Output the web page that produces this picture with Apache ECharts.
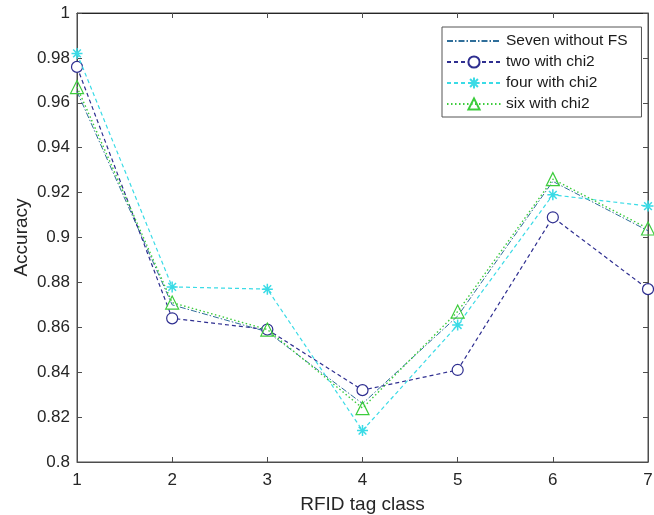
<!DOCTYPE html>
<html>
<head>
<meta charset="utf-8">
<script src="https://cdn.jsdelivr.net/npm/echarts@6/dist/echarts.min.js"></script>
<style>
  html, body { margin: 0; padding: 0; background: #fff; }
  #chart { width: 654px; height: 515px; }
</style>
</head>
<body>
<div id="chart"></div>
<script>
// RFID tag classes on the x axis
const tagClasses = [1, 2, 3, 4, 5, 6, 7];

// Accuracy per class for each feature-selection setting
const sevenWithoutFS = [0.965, 0.870, 0.858, 0.826, 0.865, 0.925, 0.903];
const twoWithChi2    = [0.976, 0.864, 0.859, 0.832, 0.841, 0.909, 0.877];
const fourWithChi2   = [0.982, 0.878, 0.877, 0.814, 0.861, 0.919, 0.914];
const sixWithChi2    = [0.967, 0.871, 0.859, 0.824, 0.867, 0.926, 0.904];

const seriesNames = ['Seven without FS', 'two with chi2', 'four with chi2', 'six with chi2'];

const FONT = 'Liberation Sans, Arial, sans-serif';
const AXIS_COLOR = '#4d4d4d';
const ASTERISK = 'path://M5,0L5,10M0,5L10,5M1.5,1.5L8.5,8.5M1.5,8.5L8.5,1.5';

function pairs(values) {
  return tagClasses.map((c, i) => [c, values[i]]);
}

const chart = echarts.init(document.getElementById('chart'), null, { renderer: 'canvas' });

const option = {
  backgroundColor: '#ffffff',
  animation: false,
  grid: { left: 77, right: 6, top: 13, bottom: 53, containLabel: false,
          outerBoundsMode: 'none',
          show: true, borderColor: AXIS_COLOR, borderWidth: 1 },
  legend: {
    orient: 'vertical',
    left: 442, top: 27,
    padding: [6, 14, 5, 4],
    itemWidth: 54, itemHeight: 14, itemGap: 5,
    backgroundColor: '#ffffff',
    borderColor: '#555555', borderWidth: 1,
    textStyle: { fontFamily: FONT, fontSize: 15.5, color: '#1a1a1a' },
    data: [
      { name: seriesNames[0], itemStyle: { opacity: 0 } },
      seriesNames[1], seriesNames[2], seriesNames[3]
    ]
  },
  xAxis: [{
    type: 'value', min: 1, max: 7, interval: 1,
    name: 'RFID tag class', nameLocation: 'middle', nameGap: 33,
    nameMoveOverlap: false,
    nameTextStyle: { fontFamily: FONT, fontSize: 19, color: '#262626' },
    axisLine: { lineStyle: { color: AXIS_COLOR } },
    axisTick: { inside: true, length: 5, lineStyle: { color: AXIS_COLOR } },
    axisLabel: { fontFamily: FONT, fontSize: 17, color: '#262626', margin: 10 },
    splitLine: { show: false }
  }, {
    type: 'value', min: 1, max: 7, interval: 1, position: 'top',
    axisLine: { lineStyle: { color: '#262626' } },
    axisTick: { inside: true, length: 5, lineStyle: { color: AXIS_COLOR } },
    axisLabel: { show: false }, splitLine: { show: false }
  }],
  yAxis: [{
    type: 'value', min: 0.8, max: 1, interval: 0.02,
    name: 'Accuracy', nameLocation: 'middle', nameGap: 46,
    nameMoveOverlap: false,
    nameTextStyle: { fontFamily: FONT, fontSize: 19, color: '#262626' },
    axisLine: { show: true, lineStyle: { color: AXIS_COLOR } },
    axisTick: { show: true, inside: true, length: 5, lineStyle: { color: AXIS_COLOR } },
    axisLabel: { fontFamily: FONT, fontSize: 17, color: '#262626', margin: 7,
                 formatter: v => String(parseFloat(v.toFixed(2))) },
    splitLine: { show: false }
  }, {
    type: 'value', min: 0.8, max: 1, interval: 0.02, position: 'right',
    axisLine: { show: true, lineStyle: { color: AXIS_COLOR } },
    axisTick: { show: true, inside: true, length: 5, lineStyle: { color: AXIS_COLOR } },
    axisLabel: { show: false }, splitLine: { show: false }
  }],
  series: [
    {
      name: seriesNames[0], type: 'line', data: pairs(sevenWithoutFS),
      symbol: 'none', z: 2,
      itemStyle: { color: '#2f6e9a' },
      lineStyle: { color: '#2f6e9a', width: 1, type: [6, 2, 1.5, 2] }
    },
    {
      name: seriesNames[1], type: 'line', data: pairs(twoWithChi2),
      symbol: 'circle', symbolSize: 11, z: 3,
      itemStyle: { color: '#ffffff', borderColor: '#2e2e90', borderWidth: 1.2 },
      lineStyle: { color: '#2e2e90', width: 1.2, type: [4, 3] }
    },
    {
      name: seriesNames[2], type: 'line', data: pairs(fourWithChi2),
      symbol: ASTERISK, symbolSize: 11, z: 4,
      itemStyle: { color: 'rgba(0,0,0,0)', borderColor: '#3adbe6', borderWidth: 1.5 },
      lineStyle: { color: '#3adbe6', width: 1.2, type: [4, 3] }
    },
    {
      name: seriesNames[3], type: 'line', data: pairs(sixWithChi2),
      symbol: 'triangle', symbolSize: 13, z: 5,
      itemStyle: { color: 'rgba(0,0,0,0)', borderColor: '#3ccc3c', borderWidth: 1.2 },
      lineStyle: { color: '#3ccc3c', width: 1.4, type: [1.5, 2.5] }
    }
  ]
};

chart.setOption(option);
</script>
</body>
</html>
